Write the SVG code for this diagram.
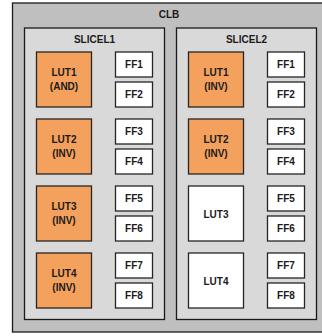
<svg xmlns="http://www.w3.org/2000/svg" width="322" height="336" viewBox="0 0 322 336">
<style>
  .clb{fill:#bfbfbf;stroke:#1a1a1a;stroke-width:1.3}
  .slice{fill:#d9d9d9;stroke:#1a1a1a;stroke-width:1.3}
  .lut{fill:#f4a15d;stroke:#262626;stroke-width:1.3}
  .lutw{fill:#ffffff;stroke:#262626;stroke-width:1.3}
  .ff{fill:#ffffff;stroke:#262626;stroke-width:1.3}
  text{font-family:"Liberation Sans",Arial,sans-serif;font-weight:bold;font-size:10px;fill:#1a1a1a;text-anchor:middle}
</style>
<rect width="322" height="336" fill="#ffffff"/>
<g id="clb">
  <rect class="clb" x="12.5" y="3" width="320" height="329"/>
  <text x="169" y="18.3">CLB</text>
</g>
<g id="slicel1">
  <rect class="slice" x="24.5" y="28" width="140" height="291.5"/>
  <text x="94.5" y="43">SLICEL1</text>
</g>
<g id="slicel2">
  <rect class="slice" x="176.5" y="28" width="140" height="291.5"/>
  <text x="246.5" y="43">SLICEL2</text>
</g>
<g id="s1-lut1"><rect class="lut" x="36.5" y="52" width="55" height="55"/><text x="64" y="76">LUT1</text><text x="64" y="90">(AND)</text></g>
<g id="s1-lut2"><rect class="lut" x="36.5" y="119" width="55" height="55"/><text x="64" y="143">LUT2</text><text x="64" y="157">(INV)</text></g>
<g id="s1-lut3"><rect class="lut" x="36.5" y="186" width="55" height="55"/><text x="64" y="210">LUT3</text><text x="64" y="224">(INV)</text></g>
<g id="s1-lut4"><rect class="lut" x="36.5" y="253" width="55" height="55"/><text x="64" y="277">LUT4</text><text x="64" y="291">(INV)</text></g>
<g id="s1-ff1"><rect class="ff" x="115.5" y="52" width="37" height="25"/><text x="134" y="68">FF1</text></g>
<g id="s1-ff2"><rect class="ff" x="115.5" y="82" width="37" height="25"/><text x="134" y="98">FF2</text></g>
<g id="s1-ff3"><rect class="ff" x="115.5" y="119" width="37" height="25"/><text x="134" y="135">FF3</text></g>
<g id="s1-ff4"><rect class="ff" x="115.5" y="149" width="37" height="25"/><text x="134" y="165">FF4</text></g>
<g id="s1-ff5"><rect class="ff" x="115.5" y="186" width="37" height="25"/><text x="134" y="202">FF5</text></g>
<g id="s1-ff6"><rect class="ff" x="115.5" y="216" width="37" height="25"/><text x="134" y="232">FF6</text></g>
<g id="s1-ff7"><rect class="ff" x="115.5" y="253" width="37" height="25"/><text x="134" y="269">FF7</text></g>
<g id="s1-ff8"><rect class="ff" x="115.5" y="283" width="37" height="25"/><text x="134" y="299">FF8</text></g>
<g id="s2-lut1"><rect class="lut" x="188.5" y="52" width="55" height="55"/><text x="216" y="76">LUT1</text><text x="216" y="90">(INV)</text></g>
<g id="s2-lut2"><rect class="lut" x="188.5" y="119" width="55" height="55"/><text x="216" y="143">LUT2</text><text x="216" y="157">(INV)</text></g>
<g id="s2-lut3"><rect class="lutw" x="188.5" y="186" width="55" height="55"/><text x="216" y="217.5">LUT3</text></g>
<g id="s2-lut4"><rect class="lutw" x="188.5" y="253" width="55" height="55"/><text x="216" y="284.5">LUT4</text></g>
<g id="s2-ff1"><rect class="ff" x="267.5" y="52" width="37" height="25"/><text x="286" y="68">FF1</text></g>
<g id="s2-ff2"><rect class="ff" x="267.5" y="82" width="37" height="25"/><text x="286" y="98">FF2</text></g>
<g id="s2-ff3"><rect class="ff" x="267.5" y="119" width="37" height="25"/><text x="286" y="135">FF3</text></g>
<g id="s2-ff4"><rect class="ff" x="267.5" y="149" width="37" height="25"/><text x="286" y="165">FF4</text></g>
<g id="s2-ff5"><rect class="ff" x="267.5" y="186" width="37" height="25"/><text x="286" y="202">FF5</text></g>
<g id="s2-ff6"><rect class="ff" x="267.5" y="216" width="37" height="25"/><text x="286" y="232">FF6</text></g>
<g id="s2-ff7"><rect class="ff" x="267.5" y="253" width="37" height="25"/><text x="286" y="269">FF7</text></g>
<g id="s2-ff8"><rect class="ff" x="267.5" y="283" width="37" height="25"/><text x="286" y="299">FF8</text></g>
<g id="connectors"></g>
</svg>
